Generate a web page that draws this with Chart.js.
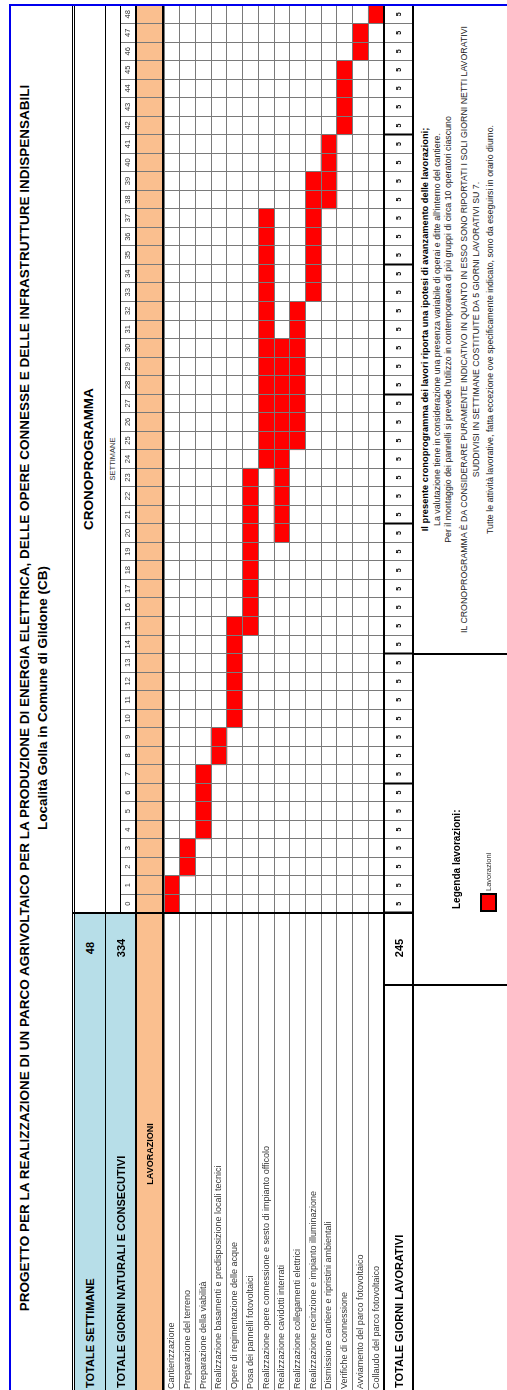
<!DOCTYPE html>
<html lang="it">
<head>
<meta charset="utf-8">
<title>Cronoprogramma</title>
<script src="https://cdn.jsdelivr.net/npm/chart.js@4.4.1/dist/chart.umd.min.js"></script>
<style>
  html, body { margin:0; padding:0; background:#fff; width:507px; height:1390px; overflow:hidden; }
  /* the sheet is laid out in landscape and turned a quarter turn counter-clockwise */
  #sheet { position:absolute; left:0; top:0; width:1390px; height:507px;
           transform-origin:0 0; transform:translate(0,1390px) rotate(-90deg);
           font-family:"Liberation Sans", Arial, sans-serif; color:#000; background:#fff; }
  #sheet div { position:absolute; }
  .t { white-space:nowrap; line-height:1; z-index:3; }
  #plot { left:0; top:121px; width:1385px; height:292px; z-index:1; }
</style>
</head>
<body>
<div id="sheet">
  <div id="plot"><canvas id="gantt" width="1385" height="292"></canvas></div>
</div>
<script>
// ---- data ----
const weekLabels = ['0','1','2','3','4','5','6','7','8','9','10','11','12','13','14','15','16',
  '17','18','19','20','21','22','23','24','25','26','27','28','29','30','31','32','33','34','35',
  '36','37','38','39','40','41','42','43','44','45','46','47','48'];
const workDays = ['5','5','5','5','5','5','5','5','5','5','5','5','5','5','5','5','5','5','5','5',
  '5','5','5','5','5','5','5','5','5','5','5','5','5','5','5','5','5','5','5','5','5','5','5','5',
  '5','5','5','5','5'];
const activities = [
  'Cantierizzazione',
  'Preparazione del terreno',
  'Preparazione della viabilità',
  'Realizzazione basamenti e predisposizione locali tecnici',
  'Opere di regimentazione delle acque',
  'Posa dei pannelli fotovoltaici',
  'Realizzazione opere connessione e sesto di impianto officolo',
  'Realizzazione cavidotti interrati',
  'Realizzazione collegamenti elettrici',
  'Realizzazione recinzione e impianto illuminazione',
  'Dismissione cantiere e ripristini ambientali',
  'Verifiche di connessione',
  'Avviamento del parco fotovoltaico',
  'Collaudo del parco fotovoltaico'
];
const startWeek = [0, 2, 4, 8, 10, 15, 24, 20, 25, 33, 38, 42, 46, 48];
const endWeek   = [1, 3, 7, 9, 15, 23, 37, 30, 32, 39, 41, 45, 47, 48];
const totalWeeks = 48;
const naturalDays = 334;
const workingDays = 245;
const notes = [
  'Il presente  cronoprogramma dei lavori  riporta una ipotesi di avanzamento delle lavorazioni;',
  'La valutazione tiene in considerazione una presenza variabile di operai e ditte all\'interno del cantiere.',
  'Per il montaggio dei pannelli si prevede l\'utilizzo in contemporanea di più gruppi di circa 10 operatori ciascuno',
  'IL CRONOPROGRAMMA È DA CONSIDERARE PURAMENTE INDICATIVO IN QUANTO IN ESSO SONO RIPORTATI I SOLI GIORNI NETTI LAVORATIVI',
  'SUDDIVISI IN SETTIMANE COSTITUITE DA 5 GIORNI LAVORATIVI SU 7.',
  'Tutte le attività lavorative, fatta eccezione ove specificamente indicato, sono da eseguirsi in orario diurno.'
];

// ---- sheet helpers ----
const FONT = '"Liberation Sans", Arial, sans-serif';
const sheet = document.getElementById('sheet');
function rect(x, y, w, h, color, z) {
  const d = document.createElement('div');
  d.style.cssText = `left:${x}px;top:${y}px;width:${w}px;height:${h}px;background:${color};z-index:${z};`;
  sheet.appendChild(d);
  return d;
}
function text(str, x, y, size, o = {}) {
  const d = document.createElement('div');
  d.className = 't';
  d.textContent = str;
  const center = o.align === 'center';
  d.style.cssText = `left:${x}px;top:${y}px;font-size:${size}px;font-weight:${o.bold ? 700 : 400};` +
    `color:${o.color || '#000'};transform:translate(${center ? '-50%' : '0'},-50%) scale(${o.sx || 1},${o.sy || 1});` +
    `transform-origin:${center ? '50% 50%' : '0 50%'};` + (o.ls ? `letter-spacing:${o.ls}px;` : '');
  sheet.appendChild(d);
  return d;
}

// cell fills
const BLUE_CELL = '#b7dee8';
const ORANGE = '#fabf8f';
rect(0, 75, 476, 30, BLUE_CELL, 0);
rect(0, 106, 476, 30, BLUE_CELL, 0);
rect(0, 136, 1384, 27, ORANGE, 0);

// ---- Gantt chart ----
const grey = '#7a7a7a';
const chart = new Chart(document.getElementById('gantt'), {
  type: 'bar',
  data: {
    labels: activities,
    datasets: [{
      label: 'Lavorazioni',
      data: activities.map((_, i) => [startWeek[i], endWeek[i] + 1]),
      backgroundColor: '#ff0000',
      borderWidth: 0,
      borderSkipped: false,
      barPercentage: 1,
      categoryPercentage: 1,
      xAxisID: 'x',
      yAxisID: 'y'
    }]
  },
  options: {
    indexAxis: 'y',
    responsive: false,
    animation: false,
    events: [],
    layout: { padding: { left: 1, right: 0, top: 0, bottom: 0 } },
    plugins: { legend: { display: false }, tooltip: { enabled: false } },
    scales: {
      y: {
        type: 'category',
        position: 'left',
        offset: true,
        grid: { offset: true, color: grey, lineWidth: 1, tickLength: 477, z: 1 },
        border: { display: false },
        ticks: { crossAlign: 'far', autoSkip: false, color: '#333', font: { family: FONT, size: 9 } },
        afterFit: s => { s.width = 476; }
      },
      x: {
        type: 'linear',
        position: 'bottom',
        weight: 0,
        min: 0,
        max: weekLabels.length,
        ticks: { display: false, stepSize: 1, maxTicksLimit: 200 },
        grid: { color: grey, lineWidth: 1, drawTicks: false, z: 1 },
        border: { display: false },
        afterFit: s => { s.height = 0; }
      },
      xDays: {
        type: 'category',
        position: 'bottom',
        weight: 1,
        labels: workDays,
        offset: true,
        min: 0,
        max: workDays.length - 1,
        grid: {
          offset: true, drawOnChartArea: false, tickLength: 29,
          tickColor: c => c.index % 7 === 0 ? '#000' : grey,
          tickWidth: c => c.index % 7 === 0 ? 2 : 1
        },
        border: { display: false },
        ticks: { autoSkip: false, maxRotation: 0, padding: -18, color: '#000',
                 font: { family: FONT, size: 7, weight: 'bold' } },
        afterFit: s => { s.height = 29; }
      },
      xTop: {
        type: 'category',
        position: 'top',
        labels: weekLabels,
        offset: true,
        min: 0,
        max: weekLabels.length - 1,
        grid: { offset: true, drawOnChartArea: false, tickLength: 43, color: grey },
        border: { display: false },
        ticks: { autoSkip: false, maxRotation: 0, padding: -11.5, color: '#333',
                 font: { family: FONT, size: 7.5 } },
        afterFit: s => { s.height = 43; }
      }
    }
  }
});

// ---- table rules ----
const BLUE = '#0000ee';
rect(0, 9, 1386, 2, BLUE, 2);          // sheet frame
rect(1384, 9, 2, 498, BLUE, 2);
rect(0, 72, 1384, 1, '#000', 2);        // double rule under the title
rect(0, 74, 1384, 1, '#000', 2);
rect(0, 105, 1384, 1, '#000', 2);
rect(477, 120, 907, 1, '#000', 2);
rect(0, 135, 1384, 2, '#000', 2);
rect(0, 162, 1384, 2, '#000', 2);
rect(0, 383, 1384, 2, '#000', 2);
rect(0, 412, 1384, 2, '#000', 2);
rect(476, 73, 2, 340, '#000', 2);
rect(404, 383, 2, 124, '#000', 2);
const splitX = Math.round(chart.scales.x.getPixelForValue(14));
rect(splitX - 1, 412, 2, 95, '#000', 2);

// ---- texts ----
text('PROGETTO PER LA REALIZZAZIONE DI UN PARCO AGRIVOLTAICO PER LA PRODUZIONE DI ENERGIA ELETTRICA, DELLE OPERE CONNESSE E DELLE INFRASTRUTTURE INDISPENSABILI',
     692, 25, 13.5, { bold: true, align: 'center' });
text('Località Golla in Comune di Gildone (CB)', 692, 43, 13.5, { bold: true, align: 'center' });

const gridMid = (chart.chartArea.left + chart.chartArea.right) / 2;
text('CRONOPROGRAMMA', gridMid, 89, 13.5, { bold: true, align: 'center' });
text('SETTIMANE', gridMid, 113, 7.5, { align: 'center', color: '#333' });

text('TOTALE SETTIMANE', 2, 90, 11, { bold: true });
text(String(totalWeeks), 442, 90, 11, { bold: true, align: 'center' });
text('TOTALE GIORNI NATURALI E CONSECUTIVI', 2, 121, 11, { bold: true });
text(String(naturalDays), 442, 121, 11, { bold: true, align: 'center' });
text('LAVORAZIONI', 236, 150, 9, { bold: true, align: 'center' });
text('TOTALE GIORNI LAVORATIVI', 2, 399, 11, { bold: true });
text(String(workingDays), 442, 399, 11, { bold: true, align: 'center' });

// legend
text('Legenda lavorazioni:', 481, 457, 10, { bold: true });
const key = rect(478, 480, 19, 17, '#ff0000', 2);
key.style.boxSizing = 'border-box';
key.style.border = '2px solid #000';
text('Lavorazioni', 499, 489, 7.5, { color: '#333' });

// notes
const notesMid = (splitX + 1385) / 2;
const noteY = [426, 437, 448, 464, 476, 490];
notes.forEach((n, i) => {
  text(n, notesMid, noteY[i], i === 0 ? 9.3 : 8.8, { bold: i === 0, align: 'center', color: i === 0 ? '#000' : '#222' });
});
</script>
</body>
</html>
